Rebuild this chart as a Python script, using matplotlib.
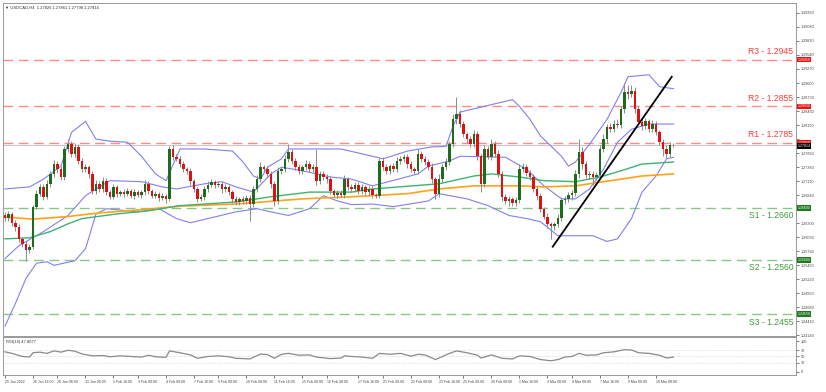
import numpy as np
import matplotlib
matplotlib.use('Agg')
import matplotlib.pyplot as plt
import matplotlib.transforms as mtransforms

plt.rcParams['font.family'] = ['Liberation Sans', 'DejaVu Sans']

# USDCAD H4 candles (one close per bar)
first_open = 1.2645
closes = [
    1.2640, 1.2648, 1.2630, 1.2623, 1.2600, 1.2590, 1.2578, 1.2585, 1.2662, 1.2687,
    1.2700, 1.2681, 1.2706, 1.2725, 1.2744, 1.2734, 1.2719, 1.2773, 1.2782, 1.2763,
    1.2777, 1.2750, 1.2734, 1.2738, 1.2725, 1.2692, 1.2706, 1.2696, 1.2711, 1.2690,
    1.2681, 1.2700, 1.2687, 1.2690, 1.2687, 1.2692, 1.2683, 1.2690, 1.2685, 1.2690,
    1.2706, 1.2692, 1.2683, 1.2687, 1.2679, 1.2683, 1.2677, 1.2773, 1.2758, 1.2754,
    1.2744, 1.2734, 1.2730, 1.2711, 1.2696, 1.2677, 1.2681, 1.2696, 1.2704, 1.2709,
    1.2704, 1.2706, 1.2696, 1.2700, 1.2690, 1.2677, 1.2671, 1.2677, 1.2673, 1.2679,
    1.2667, 1.2696, 1.2715, 1.2738, 1.2734, 1.2725, 1.2706, 1.2673, 1.2730, 1.2734,
    1.2754, 1.2767, 1.2750, 1.2738, 1.2730, 1.2738, 1.2744, 1.2734, 1.2738, 1.2711,
    1.2725, 1.2719, 1.2715, 1.2692, 1.2685, 1.2689, 1.2685, 1.2715, 1.2700, 1.2696,
    1.2704, 1.2692, 1.2700, 1.2690, 1.2696, 1.2685, 1.2683, 1.2750, 1.2738, 1.2730,
    1.2740, 1.2734, 1.2750, 1.2754, 1.2758, 1.2744, 1.2734, 1.2730, 1.2763, 1.2754,
    1.2748, 1.2738, 1.2715, 1.2687, 1.2715, 1.2738, 1.2748, 1.2782, 1.2830, 1.2840,
    1.2821, 1.2801, 1.2792, 1.2782, 1.2801, 1.2759, 1.2706, 1.2773, 1.2758, 1.2782,
    1.2763, 1.2725, 1.2681, 1.2673, 1.2677, 1.2669, 1.2675, 1.2734, 1.2738, 1.2727,
    1.2719, 1.2696, 1.2683, 1.2658, 1.2643, 1.2628, 1.2624, 1.2628, 1.2641, 1.2675,
    1.2677, 1.2685, 1.2689, 1.2725, 1.2767, 1.2744, 1.2723, 1.2725, 1.2719, 1.2723,
    1.2773, 1.2792, 1.2815, 1.2811, 1.2822, 1.2819, 1.2849, 1.2882, 1.2878, 1.2884,
    1.2849, 1.2824, 1.2817, 1.2826, 1.2811, 1.2821, 1.2805, 1.2786, 1.2773, 1.2763,
    1.2780, 1.2781,
]
# wick lengths above / below the body, in pips
upper_wick = [
    6, 5, 4, 6, 5, 4, 5, 6, 4, 8,   6, 5, 8, 6, 7, 5, 6, 6, 10, 7,
    8, 6, 5, 7, 5, 6, 8, 5, 9, 6,   5, 6, 4, 5, 6, 5, 4, 6, 5, 5,
    8, 5, 4, 6, 4, 5, 4, 6, 8, 5,   6, 5, 4, 6, 5, 4, 6, 5, 8, 6,
    5, 6, 4, 5, 4, 5, 6, 4, 5, 6,   5, 6, 8, 10, 5, 6, 5, 6, 8, 5,
    8, 15, 6, 5, 6, 5, 8, 5, 6, 35, 6, 5, 5, 6, 4, 5, 6, 8, 5, 6,
    5, 6, 5, 4, 6, 5, 4, 6, 8, 6,   5, 6, 8, 6, 5, 6, 5, 4, 10, 6,
    5, 6, 8, 5, 10, 6, 8, 6, 10, 34, 8, 6, 5, 6, 8, 6, 5, 8, 6, 10,
    6, 8, 5, 6, 5, 4, 6, 10, 8, 6,  6, 5, 6, 5, 4, 6, 5, 4, 6, 5,
    6, 5, 6, 8, 25, 10, 6, 5, 6, 5, 8, 10, 6, 8, 6, 8, 6, 18, 15, 12,
    8, 6, 8, 6, 5, 8, 6, 5, 6, 8,   6, 4,
]
lower_wick = [
    5, 6, 5, 8, 6, 5, 20, 6, 5, 4,  5, 6, 5, 6, 5, 8, 6, 5, 6, 5,
    6, 5, 6, 5, 8, 6, 5, 6, 5, 6,   5, 4, 6, 5, 6, 4, 5, 6, 5, 6,
    5, 6, 5, 4, 6, 5, 8, 5, 6, 5,   6, 5, 6, 8, 5, 6, 5, 6, 5, 4,
    6, 5, 8, 5, 6, 8, 5, 6, 5, 6,   32, 5, 6, 5, 6, 5, 8, 10, 6, 5,
    5, 6, 5, 6, 5, 6, 5, 6, 5, 8,   6, 5, 8, 6, 5, 6, 5, 6, 5, 6,
    5, 6, 5, 6, 8, 6, 5, 5, 6, 5,   6, 5, 6, 5, 6, 8, 5, 6, 5, 6,
    5, 6, 8, 10, 6, 5, 6, 5, 6, 8,  6, 5, 8, 6, 5, 8, 15, 6, 5, 6,
    5, 6, 8, 6, 10, 6, 5, 6, 5, 6,  5, 6, 8, 6, 5, 8, 24, 6, 5, 6,
    8, 6, 10, 6, 8, 10, 6, 8, 15, 6, 5, 6, 8, 6, 5, 6, 5, 6, 8, 5,
    6, 5, 8, 6, 5, 6, 5, 6, 14, 8,  6, 4,
]

# Bollinger bands and moving averages (sampled at bar index)
bb_up_idx = [0, 7, 11, 16, 19, 23, 26, 30, 35, 39, 43, 46, 50, 57, 65, 68, 71, 73, 75, 79, 81, 87,
             96, 105, 108, 115, 122, 126, 128, 130, 145, 147, 150, 153, 159, 161, 163, 167, 172,
             176, 178, 184, 187, 191]
bb_up = [1.2696, 1.2700, 1.2715, 1.2740, 1.2805, 1.2826, 1.2792, 1.2788, 1.2786, 1.2759, 1.2725,
         1.2712, 1.2773, 1.2773, 1.2769, 1.2748, 1.2721, 1.2715, 1.2738, 1.2754, 1.2773, 1.2773,
         1.2773, 1.2759, 1.2754, 1.2769, 1.2777, 1.2778, 1.2817, 1.2844, 1.2868, 1.2855, 1.2830,
         1.2798, 1.2759, 1.2740, 1.2748, 1.2782, 1.2830, 1.2882, 1.2912, 1.2916, 1.2893, 1.2889]
bb_mid_idx = [0, 4, 11, 18, 23, 26, 30, 39, 45, 49, 57, 62, 66, 71, 76, 79, 85, 93, 99, 105, 118,
              121, 127, 130, 143, 149, 154, 159, 163, 167, 171, 175, 179, 184, 191]
bb_mid = [1.2562, 1.2587, 1.2614, 1.2645, 1.2683, 1.2696, 1.2712, 1.2710, 1.2700, 1.2696, 1.2706,
          1.2710, 1.2700, 1.2690, 1.2725, 1.2738, 1.2731, 1.2719, 1.2715, 1.2702, 1.2725, 1.2740,
          1.2750, 1.2759, 1.2757, 1.2734, 1.2702, 1.2677, 1.2677, 1.2696, 1.2734, 1.2786, 1.2811,
          1.2821, 1.2821]
bb_low_idx = [0, 3, 6, 9, 12, 14, 20, 23, 26, 29, 38, 44, 49, 53, 66, 72, 76, 81, 87, 91, 95, 99,
              105, 111, 121, 124, 132, 138, 144, 149, 153, 158, 168, 172, 175, 179, 182, 186, 189, 191]
bb_low = [1.2432, 1.2476, 1.2524, 1.2553, 1.2556, 1.2549, 1.2558, 1.2581, 1.2648, 1.2658, 1.2652,
          1.2658, 1.2639, 1.2631, 1.2652, 1.2658, 1.2652, 1.2645, 1.2658, 1.2683, 1.2673, 1.2666,
          1.2667, 1.2662, 1.2673, 1.2687, 1.2677, 1.2664, 1.2645, 1.2639, 1.2633, 1.2606, 1.2606,
          1.2595, 1.2600, 1.2639, 1.2690, 1.2721, 1.2754, 1.2757]
ma_fast_idx = [0, 7, 13, 18, 22, 32, 41, 50, 66, 76, 87, 99, 105, 124, 134, 139, 147, 154, 163,
               170, 176, 182, 191]
ma_fast = [1.2600, 1.2602, 1.2614, 1.2629, 1.2639, 1.2648, 1.2654, 1.2664, 1.2671, 1.2681, 1.2690,
           1.2690, 1.2696, 1.2706, 1.2721, 1.2725, 1.2719, 1.2712, 1.2710, 1.2719, 1.2731, 1.2744,
           1.2748]
ma_slow_idx = [0, 8, 18, 27, 37, 50, 66, 85, 99, 115, 124, 134, 147, 154, 163, 173, 182, 191]
ma_slow = [1.2642, 1.2638, 1.2643, 1.2650, 1.2655, 1.2663, 1.2667, 1.2677, 1.2681, 1.2687, 1.2696,
           1.2702, 1.2702, 1.2700, 1.2702, 1.2712, 1.2721, 1.2725]

trend_idx = [156.5, 190.5]
trend_px = [1.2585, 1.2912]

rsi_idx = [0, 2, 5, 7, 8, 10, 12, 14, 16, 18, 20, 22, 25, 28, 30, 33, 36, 39, 41, 43, 46, 47, 50,
           53, 55, 58, 61, 64, 66, 70, 73, 75, 77, 79, 81, 84, 87, 89, 93, 96, 97, 99, 102, 105,
           107, 110, 113, 116, 118, 120, 123, 125, 127, 129, 132, 135, 136, 139, 142, 145, 147,
           150, 153, 156, 158, 160, 162, 164, 166, 169, 171, 174, 177, 179, 181, 184, 187, 189, 191]
rsi_val = [65, 60, 50, 48, 62, 64, 60, 68, 64, 70, 67, 58, 52, 53, 49, 52, 50, 48, 54, 49, 47, 68,
           62, 55, 44, 50, 52, 49, 44, 42, 58, 56, 44, 57, 60, 54, 55, 48, 43, 45, 52, 50, 48, 44,
           60, 57, 60, 51, 57, 55, 40, 50, 60, 68, 62, 54, 45, 55, 44, 42, 52, 50, 40, 36, 40, 48,
           50, 60, 54, 55, 62, 65, 72, 71, 62, 60, 54, 45, 48]

levels = [1.2945, 1.2855, 1.2785, 1.2660, 1.2560, 1.2455]
level_names = ['R3', 'R2', 'R1', 'S1', 'S2', 'S3']
last_price = 1.27814

price_ticks = [1.30350, 1.30080, 1.29810, 1.29540, 1.29270, 1.29000, 1.28730, 1.28460, 1.28190,
               1.27920, 1.27650, 1.27380, 1.27110, 1.26840, 1.26570, 1.26300, 1.26030, 1.25760,
               1.25490, 1.25220, 1.24950, 1.24680, 1.24410, 1.24140]
date_idx = [0, 8, 15, 23, 31, 38, 46, 54, 61, 69, 77, 85, 92, 101, 108, 116, 124, 131, 139, 147,
            155, 162, 170, 178, 186]
date_labels = ['25 Jan 2022', '26 Jan 16:00', '28 Jan 08:00', '31 Jan 08:00', '1 Feb 16:00',
               '3 Feb 00:00', '4 Feb 08:00', '7 Feb 16:00', '9 Feb 00:00', '10 Feb 08:00',
               '11 Feb 16:00', '15 Feb 00:00', '16 Feb 08:00', '17 Feb 16:00', '21 Feb 00:00',
               '22 Feb 08:00', '23 Feb 16:00', '25 Feb 00:00', '28 Feb 08:00', '1 Mar 16:00',
               '3 Mar 00:00', '4 Mar 08:00', '7 Mar 16:00', '9 Mar 00:00', '10 Mar 08:00']

W, H = 826, 392
fig = plt.figure(figsize=(W / 100, H / 100), dpi=100)
ax = fig.add_axes([3 / W, 1 - 336 / H, 793 / W, 333 / H])
axr = fig.add_axes([3 / W, 1 - 375 / H, 793 / W, 38 / H], sharex=ax)

c = np.array(closes)
o = np.array([first_open] + closes[:-1])
x = np.arange(len(c))
hi = np.maximum(o, c) + np.array(upper_wick) * 1e-4
lo = np.minimum(o, c) - np.array(lower_wick) * 1e-4
up = c >= o

tr = mtransforms.blended_transform_factory(ax.transAxes, ax.transData)

# level lines with labels and price tags
for lv, name in zip(levels, level_names):
    res = name.startswith('R')
    lc = '#ff8a8a' if res else '#86c886'
    tc = '#ff3b3b' if res else '#3f9a3f'
    ax.axhline(lv, color=lc, lw=1.0, dashes=(7, 4), zorder=1)
    ax.annotate(f'{name} - {lv:.4f}', xy=(1, lv), xycoords=tr,
                xytext=(-2, 2.5 if res else -2.5), textcoords='offset points',
                ha='right', va='bottom' if res else 'top', color=tc, fontsize=6.2)
    ax.text(1.002, lv, f'{lv:.5f}', transform=tr, fontsize=2.5, color='white',
            va='center', ha='left',
            bbox=dict(boxstyle='square,pad=0.25', fc='#ee1111' if res else '#1e7a1e', ec='none'))
ax.axhline(last_price, color='#c8c8c8', lw=0.8, zorder=1)
ax.text(1.002, last_price - 0.0002, f'{last_price:.5f}', transform=tr, fontsize=2.5,
        color='white', va='center', ha='left',
        bbox=dict(boxstyle='square,pad=0.25', fc='black', ec='none'))

# indicators
ax.plot(bb_up_idx, bb_up, color='#8080f0', lw=0.8, zorder=2)
ax.plot(bb_mid_idx, bb_mid, color='#8080f0', lw=0.8, zorder=2)
ax.plot(bb_low_idx, bb_low, color='#8080f0', lw=0.8, zorder=2)
ax.plot(ma_slow_idx, ma_slow, color='#ffa31a', lw=1.2, zorder=2)
ax.plot(ma_fast_idx, ma_fast, color='#3cb371', lw=1.0, zorder=2)

# candles
ax.vlines(x, lo, hi, color='#8c8c8c', lw=0.7, zorder=3)
body = np.maximum(np.abs(c - o), 0.00008)
ax.bar(x, body, bottom=np.minimum(o, c), width=0.72,
       color=np.where(up, '#1e6b1e', '#e01010'), edgecolor='none', zorder=4)

ax.plot(trend_idx, trend_px, color='black', lw=1.3, zorder=5)

ax.set_xlim(-0.57, 226)
ax.set_ylim(1.2413, 1.3054)
ax.yaxis.tick_right()
ax.set_yticks(price_ticks)
# the price tags cover the scale label underneath them, as in the terminal
tagged = levels + [last_price]
ax.set_yticklabels(['' if min(abs(t - v) for v in tagged) < 0.0009 else f'{t:.5f}'
                    for t in price_ticks])
ax.tick_params(axis='y', labelsize=2.7, length=2, width=0.5, colors='#444444', pad=1.5)
ax.tick_params(axis='x', bottom=False, labelbottom=False)
for s in ax.spines.values():
    s.set_color('#999999')
    s.set_linewidth(0.7)
ax.text(0.003, 0.992, '\u25bc USDCAD,H4  1.27826 1.27861 1.27798 1.27814',
        transform=ax.transAxes, fontsize=3.0, va='top', ha='left', color='#333333')

# RSI panel
for lvl in (70, 50, 30):
    axr.axhline(lvl, color='#c8c8c8', lw=0.5, ls=(0, (1, 1.5)))
axr.plot(rsi_idx, rsi_val, color='#8a8a8a', lw=0.9)
axr.set_ylim(-10, 113)
axr.yaxis.tick_right()
axr.set_yticks([100, 70, 50, 30, 0])
axr.tick_params(axis='y', labelsize=2.7, length=2, width=0.5, colors='#444444', pad=1.5)
axr.set_xticks(date_idx)
axr.set_xticklabels(date_labels, ha='left')
axr.tick_params(axis='x', labelsize=2.5, length=2, width=0.5, colors='#444444', pad=1.5)
for s in axr.spines.values():
    s.set_color('#999999')
    s.set_linewidth(0.7)
axr.text(0.004, 0.93, 'RSI(14) 47.8077', transform=axr.transAxes, fontsize=3.0,
         va='top', ha='left', color='#333333')

fig.savefig('out.png', dpi=100, facecolor='white')
